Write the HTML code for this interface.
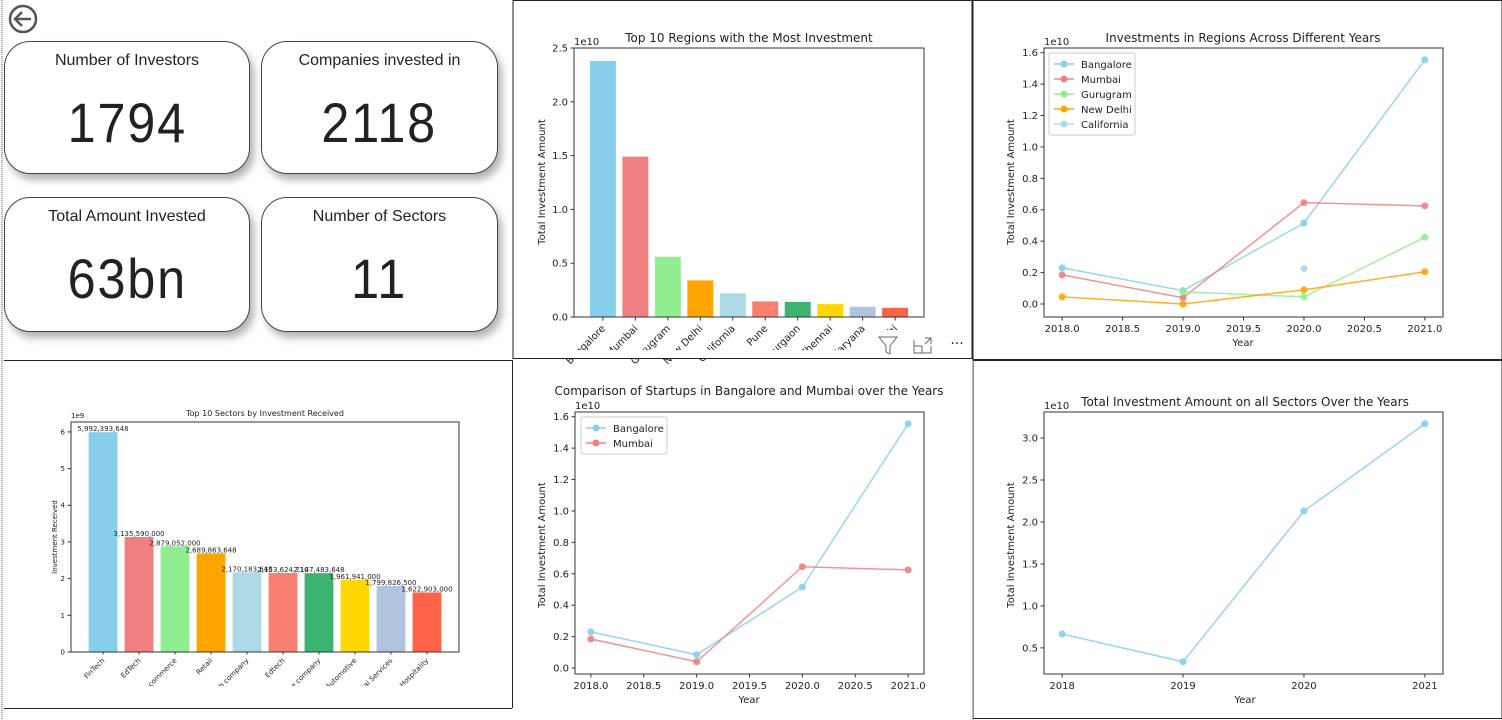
<!DOCTYPE html>
<html><head><meta charset="utf-8"><style>
body{margin:0;width:1502px;height:720px;overflow:hidden;background:#fff;font-family:"DejaVu Sans","Liberation Sans",sans-serif;position:relative}
.card{position:absolute;background:#fff;border:1px solid #444;border-radius:26px;box-shadow:4px 6px 8px rgba(0,0,0,0.3);text-align:center;color:#222}
.card .t{font-family:"Liberation Sans",sans-serif;font-size:16px;margin-top:10px}
.card .v{font-family:"Liberation Sans",sans-serif;font-size:56px;margin-top:20px;letter-spacing:2px;display:inline-block;transform:scaleX(0.9)}
svg{position:absolute;left:0;top:0}
</style></head><body>
<svg id="s" width="1502" height="720"></svg>
<div class="card" style="left:4px;top:41px;width:244px;height:131px"><div class="t">Number of Investors</div><div class="v">1794</div></div>
<div class="card" style="left:261px;top:41px;width:235px;height:131px"><div class="t">Companies invested in</div><div class="v">2118</div></div>
<div class="card" style="left:4px;top:197px;width:244px;height:133px"><div class="t">Total Amount Invested</div><div class="v">63bn</div></div>
<div class="card" style="left:261px;top:197px;width:235px;height:133px"><div class="t">Number of Sectors</div><div class="v">11</div></div>
<script>
const regionCats=["Bangalore","Mumbai","Gurugram","New Delhi","California","Pune","Gurgaon","Chennai","Haryana","Delhi"];
const regionVals=[2.38,1.49,0.56,0.34,0.22,0.145,0.14,0.12,0.095,0.085];
const barColors=["#87ceeb","#f08080","#90ee90","#ffa500","#add8e6","#fa8072","#3cb371","#ffd700","#b0c4de","#ff6347"];
const years=[2018,2019,2020,2021];
const bangalore=[0.23,0.085,0.515,1.555];
const mumbai=[0.185,0.04,0.645,0.625];
const gurugram=[null,0.078,0.045,0.425];
const newDelhi=[0.045,0.0,0.09,0.205];
const california=[null,null,0.225,null];
const sectorCats=["FinTech","EdTech","E-commerce","Retail","Tech company","Edtech","Finance company","Automotive","Financial Services","Hospitality"];
const sectorVals=[5992393648,3135590000,2879052000,2689863648,2170183648,2153624710,2147483648,1961941000,1799826500,1622903000];
const totalVals=[0.665,0.335,2.13,3.17];
const ticksA=[0,0.5,1.0,1.5,2.0,2.5];
const ticksB=[0,0.2,0.4,0.6,0.8,1.0,1.2,1.4,1.6];
const ticksC=[0,1,2,3,4,5,6];
const ticksE=[0.5,1.0,1.5,2.0,2.5,3.0];
const xTicksHalf=[2018,2018.5,2019,2019.5,2020,2020.5,2021];

const S=document.getElementById('s');const NS='http://www.w3.org/2000/svg';
function el(t,a,txt){const e=document.createElementNS(NS,t);for(const k in a)e.setAttribute(k,a[k]);if(txt!=null)e.textContent=txt;S.appendChild(e);return e;}
function lin(d0,d1,r0,r1){return v=>r0+(v-d0)/(d1-d0)*(r1-r0);}
function frame(x0,y0,x1,y1){el('rect',{x:x0,y:y0,width:x1-x0,height:y1-y0,fill:'none',stroke:'#333','stroke-width':1,});}
function yAxis(x0,ys,ticks,fmt,fs){ticks.forEach(t=>{const y=ys(t);el('line',{x1:x0-3.5,x2:x0,y1:y,y2:y,stroke:'#333'});const e=el('text',{x:x0-6,y:y+fs*0.35,'font-size':fs,'text-anchor':'end',fill:'#222'},fmt(t));});}
function xAxis(y0,xs,ticks,fmt,fs){ticks.forEach(t=>{const x=xs(t);el('line',{x1:x,x2:x,y1:y0,y2:y0+3.5,stroke:'#333'});const e=el('text',{x:x,y:y0+15,'font-size':fs,'text-anchor':'middle',fill:'#222'},fmt(t));});}
function txt(x,y,s,fs,name,rot,anchor){const a={x:x,y:y,'font-size':fs,'text-anchor':anchor||'middle',fill:'#222'};if(rot)a.transform=`rotate(${rot} ${x} ${y})`;const e=el('text',a,s);return e;}
function series(xs,ys,vals,color,name,op){let pts=[];years.forEach((yr,i)=>{if(vals[i]!=null)pts.push([xs(yr),ys(vals[i])]);});
 if(pts.length>1){const p=el('polyline',{points:pts.map(p=>p.join(',')).join(' '),fill:'none',stroke:color,'stroke-width':1.5,opacity:op||0.85});}
 pts.forEach(p=>{const c=el('circle',{cx:p[0],cy:p[1],r:3.5,fill:color,opacity:op||0.9});});}
function legend(x,y,items){const h=items.length*15+7;el('rect',{x:x,y:y,width:86,height:h,fill:'#fff',stroke:'#ccc',rx:2,});
 items.forEach((it,i)=>{const yy=y+11+i*15;el('line',{x1:x+5,x2:x+25,y1:yy,y2:yy,stroke:it[1],'stroke-width':1.5});el('circle',{cx:x+15,cy:yy,r:3.5,fill:it[1]});const e=el('text',{x:x+32,y:yy+4,'font-size':10,fill:'#222'},it[0]);});}

// panel borders
el('line',{x1:2,x2:2,y1:0,y2:720,stroke:'#555','stroke-dasharray':'1,1'});
el('rect',{x:513,y:0.5,width:459,height:358,fill:'none',stroke:'#222',});
el('rect',{x:973,y:0.5,width:529,height:359,fill:'none',stroke:'#222',});
el('line',{x1:4,x2:512,y1:360.5,y2:360.5,stroke:'#222'});
el('line',{x1:4,x2:512,y1:708.5,y2:708.5,stroke:'#222'});
el('line',{x1:512.5,x2:512.5,y1:360,y2:708,stroke:'#222'});
el('rect',{x:973,y:360.5,width:529,height:358,fill:'none',stroke:'#222',});
el('line',{x1:972.5,x2:972.5,y1:360,y2:720,stroke:'#bbb'});
// back icon
el('circle',{cx:23,cy:19,r:13,fill:'none',stroke:'#555','stroke-width':2.5,});
el('path',{d:'M31 19H16M22 12L15 19L22 26',fill:'none',stroke:'#555','stroke-width':2.5});

// Chart A
{const x0=574,x1=924,y0=48,y1=317;const xs=lin(-0.89,9.89,x0,x1),ys=lin(0,2.5,y1,y0);
regionVals.forEach((v,i)=>{const r=el('rect',{x:xs(i-0.4),y:ys(v),width:xs(0.8)-xs(0),height:y1-ys(v),fill:barColors[i]});});
frame(x0,y0,x1,y1);yAxis(x0,ys,ticksA,t=>t.toFixed(1),10);
regionCats.forEach((c,i)=>{const x=xs(i);el('line',{x1:x,x2:x,y1:y1,y2:y1+3.5,stroke:'#333'});txt(x+3,y1+12,c,10,'x-tick-label',-45,'end');});
el('rect',{x:514,y:350,width:457,height:8,fill:'#fff'});
el('rect',{x:872,y:330,width:99,height:28,fill:'#fff'});
txt(x0,y0-3,'1e10',10,'y-offset-label',0,'start');
txt(749,42,'Top 10 Regions with the Most Investment',12,'chart-title');
txt(545,182,'Total Investment Amount',10,'y-axis-title',-90);
el('path',{d:'M879 337H897L890 346V354L886 352V346Z',fill:'none',stroke:'#666',});
el('path',{d:'M914 340V353H931V346M922 353V346H914M925 338H931V344M931 338L925 344',fill:'none',stroke:'#666',});
txt(957,348,'···',14,'more-options',0,'middle');}

// Chart B
{const x0=1044,x1=1443,y0=48,y1=317;const xs=lin(2017.85,2021.15,x0,x1),ys=lin(-0.083,1.63,y1,y0);
frame(x0,y0,x1,y1);yAxis(x0,ys,ticksB,t=>t.toFixed(1),10);xAxis(y1,xs,xTicksHalf,t=>t.toFixed(1),10);
series(xs,ys,bangalore,'#87ceeb','bangalore');series(xs,ys,mumbai,'#f08080','mumbai');series(xs,ys,gurugram,'#90ee90','gurugram');series(xs,ys,newDelhi,'#ffa500','new-delhi');series(xs,ys,california,'#add8e6','california');
legend(1049,53,[['Bangalore','#87ceeb'],['Mumbai','#f08080'],['Gurugram','#90ee90'],['New Delhi','#ffa500'],['California','#add8e6']]);
txt(x0,y0-3,'1e10',10,'y-offset-label',0,'start');txt(1243,42,'Investments in Regions Across Different Years',12,'chart-title');
txt(1243,346,'Year',10,'x-axis-title');txt(1014,182,'Total Investment Amount',10,'y-axis-title',-90);}

// Chart C
{const x0=71,x1=459,y0=422,y1=652;const xs=lin(-0.89,9.89,x0,x1),ys=lin(0,6.27,y1,y0);
sectorVals.forEach((v,i)=>{const r=el('rect',{x:xs(i-0.4),y:ys(v/1e9),width:xs(0.8)-xs(0),height:y1-ys(v/1e9),fill:barColors[i]});
 txt(xs(i),ys(v/1e9)-1,v.toLocaleString('en-US'),7,'bar-value-label');});
frame(x0,y0,x1,y1);yAxis(x0,ys,ticksC,t=>String(t),7);
sectorCats.forEach((c,i)=>{const x=xs(i);el('line',{x1:x,x2:x,y1:y1,y2:y1+2.5,stroke:'#333'});txt(x+2,y1+9,c,7,'x-tick-label',-45,'end');});
el('rect',{x:4,y:686,width:507,height:22,fill:'#fff'});
txt(x0,y0-4,'1e9',7,'y-offset-label',0,'start');txt(265,416,'Top 10 Sectors by Investment Received',8,'chart-title');
txt(57,537,'Investment Received',7,'y-axis-title',-90);}

// Chart D
{const x0=575,x1=924,y0=412,y1=674;const xs=lin(2017.85,2021.15,x0,x1),ys=lin(-0.038,1.63,y1,y0);
frame(x0,y0,x1,y1);yAxis(x0,ys,ticksB,t=>t.toFixed(1),10);xAxis(y1,xs,xTicksHalf,t=>t.toFixed(1),10);
series(xs,ys,bangalore,'#87ceeb','bangalore');series(xs,ys,mumbai,'#f08080','mumbai');
legend(581,417,[['Bangalore','#87ceeb'],['Mumbai','#f08080']]);
txt(x0,y0-3,'1e10',10,'y-offset-label',0,'start');txt(749,395,'Comparison of Startups in Bangalore and Mumbai over the Years',12,'chart-title');
txt(749,703,'Year',10,'x-axis-title');txt(545,545,'Total Investment Amount',10,'y-axis-title',-90);}

// Chart E
{const x0=1044,x1=1443,y0=412,y1=674;const xs=lin(2017.85,2021.15,x0,x1),ys=lin(0.189,3.31,y1,y0);
frame(x0,y0,x1,y1);yAxis(x0,ys,ticksE,t=>t.toFixed(1),10);xAxis(y1,xs,years,t=>String(t),10);
series(xs,ys,totalVals,'#87ceeb','total-investment');
txt(x0,y0-3,'1e10',10,'y-offset-label',0,'start');txt(1245,406,'Total Investment Amount on all Sectors Over the Years',12,'chart-title');
txt(1245,703,'Year',10,'x-axis-title');txt(1014,545,'Total Investment Amount',10,'y-axis-title',-90);}
</script>
</body></html>
